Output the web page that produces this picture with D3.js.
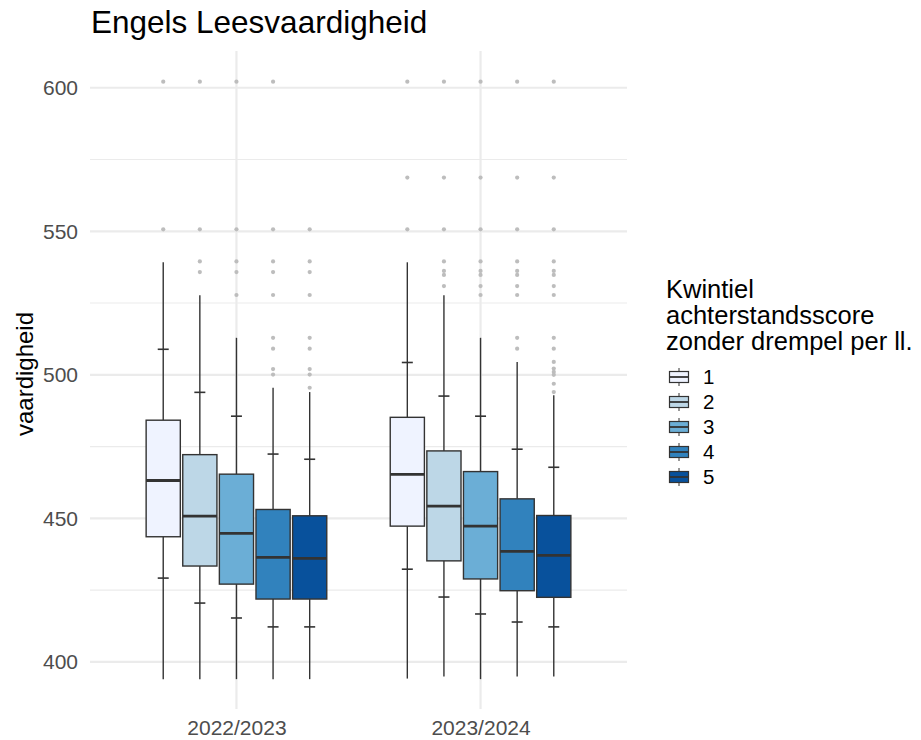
<!DOCTYPE html>
<html>
<head>
<meta charset="utf-8">
<script src="https://cdn.jsdelivr.net/npm/d3@7"></script>
<style>
  html, body { margin: 0; padding: 0; background: #ffffff; }
  svg { display: block; font-family: "Liberation Sans", Arial, Helvetica, sans-serif; }
</style>
</head>
<body>
<svg id="chart" width="921" height="740"></svg>
<script>
// ---------- data ----------
const years = ["2022/2023", "2023/2024"];
const quintiles = ["1", "2", "3", "4", "5"];
const yTicks = [400, 450, 500, 550, 600];
const yMinorTicks = [425, 475, 525, 575];

// per year, per quintile (1..5)
const whiskerLow2223 = [394.0, 394.0, 394.0, 394.0, 394.0];
const p10_2223       = [429.2, 420.5, 415.3, 412.2, 412.2];
const q1_2223        = [443.6, 433.4, 427.1, 421.9, 421.9];
const median2223     = [463.2, 450.8, 444.8, 436.4, 436.1];
const q3_2223        = [484.2, 472.2, 465.4, 453.1, 450.9];
const p90_2223       = [508.9, 493.9, 485.6, 472.4, 470.6];
const whiskerHigh2223= [539.2, 527.7, 512.9, 495.5, 494.0];

const whiskerLow2324 = [394.2, 394.9, 394.0, 394.9, 394.9];
const p10_2324       = [432.3, 422.6, 416.7, 413.9, 412.2];
const q1_2324        = [447.3, 435.2, 428.9, 424.8, 422.5];
const median2324     = [465.3, 454.3, 447.3, 438.5, 437.1];
const q3_2324        = [485.2, 473.5, 466.3, 456.8, 451.0];
const p90_2324       = [504.3, 492.6, 485.6, 474.1, 467.8];
const whiskerHigh2324= [539.2, 527.7, 512.9, 504.5, 492.9];

const outliers2223 = [
  [602.1, 550.7],
  [602.1, 550.7, 539.5, 535.8],
  [602.1, 550.7, 539.5, 535.8, 527.8],
  [602.1, 550.7, 539.5, 535.8, 527.8, 512.9, 509.1, 502.0, 500.1],
  [550.7, 539.5, 535.8, 527.8, 512.9, 509.1, 502.0, 500.1, 495.5]
];
const outliers2324 = [
  [602.1, 568.7, 550.7],
  [602.1, 568.7, 550.7, 539.5, 536.2, 534.8, 530.9],
  [602.1, 568.7, 550.7, 539.5, 536.2, 534.8, 530.9, 527.8],
  [602.1, 568.7, 550.7, 539.5, 536.2, 534.8, 530.9, 527.8, 512.9, 509.1],
  [602.1, 568.7, 550.7, 539.5, 536.2, 534.8, 530.9, 527.8, 512.9, 509.1, 504.5, 502.2, 501.0, 500.0, 496.9, 494.0]
];

const colors = ["#eff3ff", "#bdd7e7", "#6baed6", "#3182bd", "#08519c"];

const titleText = "Engels Leesvaardigheid";
const yTitle = "vaardigheid";
const legendTitle = ["Kwintiel", "achterstandsscore", "zonder drempel per ll."];

// ---------- build table ----------
const stats = {
  "2022/2023": { lo: whiskerLow2223, p10: p10_2223, q1: q1_2223, med: median2223, q3: q3_2223, p90: p90_2223, hi: whiskerHigh2223, out: outliers2223 },
  "2023/2024": { lo: whiskerLow2324, p10: p10_2324, q1: q1_2324, med: median2324, q3: q3_2324, p90: p90_2324, hi: whiskerHigh2324, out: outliers2324 }
};
const rows = [];
years.forEach(yr => {
  quintiles.forEach((q, i) => {
    const s = stats[yr];
    rows.push({ year: yr, q: q, i: i, lo: s.lo[i], p10: s.p10[i], q1: s.q1[i], med: s.med[i], q3: s.q3[i], p90: s.p90[i], hi: s.hi[i], out: s.out[i] });
  });
});

// ---------- layout ----------
const panel = { left: 90, right: 627, top: 51, bottom: 709 };
const svg = d3.select("#chart");

// discrete x via continuous positions (ggplot-like expansion 0.6)
const xc = d3.scaleLinear().domain([0.4, 2.6]).range([panel.left, panel.right]);
const xPos = d3.scaleOrdinal().domain(years).range([1, 2]);
const dodge = d3.scaleBand().domain(quintiles).range([-0.375, 0.375]).padding(0);
const boxW = 0.14;

const y = d3.scaleLinear().domain([383.6, 612.8]).range([panel.bottom, panel.top]);

// grid
const grid = svg.append("g");
grid.selectAll("line.minor").data(yMinorTicks).enter().append("line")
  .attr("x1", panel.left).attr("x2", panel.right)
  .attr("y1", d => y(d)).attr("y2", d => y(d))
  .attr("stroke", "#ebebeb").attr("stroke-width", 1.1);
grid.selectAll("line.major").data(yTicks).enter().append("line")
  .attr("x1", panel.left).attr("x2", panel.right)
  .attr("y1", d => y(d)).attr("y2", d => y(d))
  .attr("stroke", "#ebebeb").attr("stroke-width", 2.2);
grid.selectAll("line.vmajor").data(years).enter().append("line")
  .attr("x1", d => xc(xPos(d))).attr("x2", d => xc(xPos(d)))
  .attr("y1", panel.top).attr("y2", panel.bottom)
  .attr("stroke", "#ebebeb").attr("stroke-width", 2.2);

// y axis labels
const yAxis = d3.axisLeft(y).tickValues(yTicks).tickSize(0).tickPadding(12);
const yg = svg.append("g").attr("transform", `translate(${panel.left},0)`).call(yAxis);
yg.select(".domain").remove();
yg.selectAll("text").attr("fill", "#4d4d4d").style("font-size", "21px")
  .style("font-family", "'Liberation Sans', Arial, sans-serif");

// x axis labels
const xAxis = d3.axisBottom(d3.scalePoint().domain(years).range([xc(1), xc(2)])).tickSize(0).tickPadding(11);
const xg = svg.append("g").attr("transform", `translate(0,${panel.bottom})`).call(xAxis);
xg.select(".domain").remove();
xg.selectAll("text").attr("fill", "#4d4d4d").style("font-size", "21px")
  .style("font-family", "'Liberation Sans', Arial, sans-serif");

// axis title
svg.append("text")
  .attr("transform", `translate(33,374) rotate(-90)`)
  .attr("text-anchor", "middle")
  .attr("fill", "#000")
  .style("font-size", "24px")
  .text(yTitle);

// plot title
svg.append("text").attr("x", 91).attr("y", 33)
  .attr("fill", "#000").style("font-size", "31.5px")
  .text(titleText);

// boxes
const g = svg.append("g");
const cx = r => xc(xPos(r.year) + dodge(r.q) + dodge.bandwidth() / 2);
const half = xc(boxW / 2) - xc(0);
const capHalf = 5.5;
const lineCol = "#333333";

const box = g.selectAll("g.box").data(rows).enter().append("g");

// outliers
box.each(function(r) {
  d3.select(this).selectAll("circle").data(r.out).enter().append("circle")
    .attr("cx", cx(r)).attr("cy", d => y(d)).attr("r", 2.1)
    .attr("fill", "#bdbdbd");
});
// whiskers
box.append("line").attr("x1", cx).attr("x2", cx)
  .attr("y1", r => y(r.lo)).attr("y2", r => y(r.q1))
  .attr("stroke", lineCol).attr("stroke-width", 1.4);
box.append("line").attr("x1", cx).attr("x2", cx)
  .attr("y1", r => y(r.q3)).attr("y2", r => y(r.hi))
  .attr("stroke", lineCol).attr("stroke-width", 1.4);
// percentile caps
box.append("line").attr("x1", r => cx(r) - capHalf).attr("x2", r => cx(r) + capHalf)
  .attr("y1", r => y(r.p10)).attr("y2", r => y(r.p10))
  .attr("stroke", lineCol).attr("stroke-width", 1.6);
box.append("line").attr("x1", r => cx(r) - capHalf).attr("x2", r => cx(r) + capHalf)
  .attr("y1", r => y(r.p90)).attr("y2", r => y(r.p90))
  .attr("stroke", lineCol).attr("stroke-width", 1.6);
// box
box.append("rect")
  .attr("x", r => cx(r) - half).attr("width", half * 2)
  .attr("y", r => y(r.q3)).attr("height", r => y(r.q1) - y(r.q3))
  .attr("fill", r => colors[r.i]).attr("stroke", lineCol).attr("stroke-width", 1.4);
// median
box.append("line").attr("x1", r => cx(r) - half).attr("x2", r => cx(r) + half)
  .attr("y1", r => y(r.med)).attr("y2", r => y(r.med))
  .attr("stroke", lineCol).attr("stroke-width", 2.8);

// legend
const lg = svg.append("g");
lg.selectAll("text.lt").data(legendTitle).enter().append("text")
  .attr("x", 666).attr("y", (d, i) => 298 + i * 26)
  .attr("fill", "#000").style("font-size", "25.5px").text(d => d);

const keys = lg.selectAll("g.key").data(quintiles).enter().append("g")
  .attr("transform", (d, i) => `translate(679,${377 + i * 25})`);
keys.append("line").attr("x1", 0).attr("x2", 0).attr("y1", -9).attr("y2", 9)
  .attr("stroke", lineCol).attr("stroke-width", 1);
keys.append("rect").attr("x", -9.5).attr("y", -5.5).attr("width", 19).attr("height", 11)
  .attr("fill", (d, i) => colors[i]).attr("stroke", lineCol).attr("stroke-width", 1.2);
keys.append("line").attr("x1", -9.5).attr("x2", 9.5).attr("y1", 0).attr("y2", 0)
  .attr("stroke", lineCol).attr("stroke-width", 1.8);
keys.append("text").attr("x", 24).attr("y", 0).attr("dy", "0.36em")
  .attr("fill", "#000").style("font-size", "20.5px").text(d => d);
</script>
</body>
</html>
